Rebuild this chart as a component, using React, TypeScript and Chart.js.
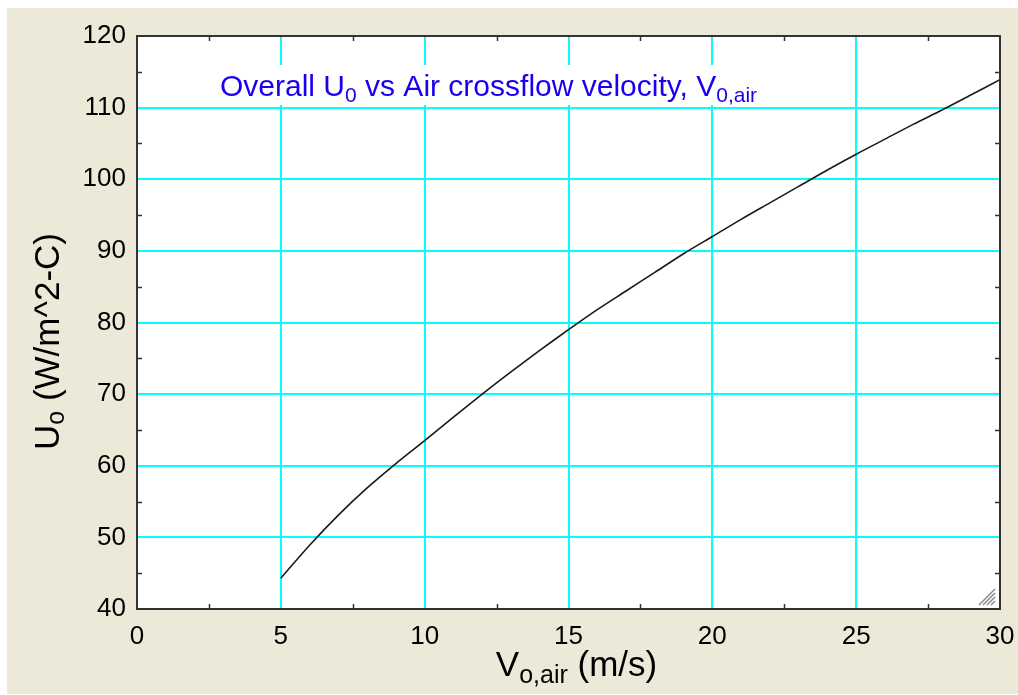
import React, { useEffect, useRef } from "react";
import { Chart, registerables } from "chart.js";

Chart.register(...registerables);

// Air crossflow velocity (m/s)
const velocity = [5, 6, 7, 8, 9, 10, 11, 12, 13, 14, 15, 16, 17, 18, 19, 20, 21, 22, 23, 24, 25, 26, 27, 28, 29, 30];
// Overall heat transfer coefficient U_o (W/m^2-C)
const overallU = [44.3, 48.9, 53.1, 56.9, 60.3, 63.5, 66.8, 70.0, 73.1, 76.1, 79.0, 81.8, 84.4, 87.0, 89.6, 92.0, 94.4, 96.7, 99.0, 101.3, 103.5, 105.6, 107.7, 109.7, 111.8, 113.9];

const xTickValues = [0, 5, 10, 15, 20, 25, 30];
const yTickValues = [40, 50, 60, 70, 80, 90, 100, 110, 120];
const xMinorTicks = [2.5, 7.5, 12.5, 17.5, 22.5, 27.5];
const yMinorTicks = [45, 55, 65, 75, 85, 95, 105, 115];

type Run = { text: string; sub?: boolean };

const titleRuns: Run[] = [
  { text: "Overall U" },
  { text: "0", sub: true },
  { text: " vs Air crossflow velocity, V" },
  { text: "0,air", sub: true },
];
const xTitleRuns: Run[] = [{ text: "V" }, { text: "o,air", sub: true }, { text: " (m/s)" }];
const yTitleRuns: Run[] = [{ text: "U" }, { text: "o", sub: true }, { text: " (W/m^2-C)" }];

const FAMILY = '"Liberation Sans", Arial, Helvetica, sans-serif';

function runsWidth(ctx: CanvasRenderingContext2D, runs: Run[], main: number, sub: number) {
  let w = 0;
  for (const r of runs) {
    ctx.font = `${r.sub ? sub : main}px ${FAMILY}`;
    w += ctx.measureText(r.text).width;
  }
  return w;
}

function drawRuns(ctx: CanvasRenderingContext2D, runs: Run[], x: number, y: number, main: number, sub: number, drop: number) {
  let cx = x;
  ctx.textAlign = "left";
  ctx.textBaseline = "alphabetic";
  for (const r of runs) {
    ctx.font = `${r.sub ? sub : main}px ${FAMILY}`;
    ctx.fillText(r.text, cx, y + (r.sub ? drop : 0));
    cx += ctx.measureText(r.text).width;
  }
}

const decorPlugin = {
  id: "decor",
  beforeDraw(chart: any) {
    const { ctx, chartArea: a } = chart;
    ctx.save();
    ctx.fillStyle = "#ffffff";
    ctx.fillRect(a.left, a.top, a.right - a.left, a.bottom - a.top);
    ctx.restore();
  },
  beforeDatasetsDraw(chart: any) {
    const { ctx, chartArea: a } = chart;
    ctx.save();
    const main = 30;
    const sub = 21;
    const w = runsWidth(ctx, titleRuns, main, sub);
    const x0 = a.left + 83;
    const base = a.top + 60;
    ctx.fillStyle = "#ffffff";
    ctx.fillRect(x0 - 10, a.top + 29, w + 20, 40);
    ctx.fillStyle = "#1a00f0";
    drawRuns(ctx, titleRuns, x0, base, main, sub, 6);
    ctx.restore();
  },
  afterDatasetsDraw(chart: any) {
    const { ctx, chartArea: a, scales } = chart;
    const xs = scales.x;
    const ys = scales.y;
    ctx.save();
    // minor tick marks pointing into the plot on all four sides
    ctx.strokeStyle = "#333333";
    ctx.lineWidth = 1.5;
    const len = 5;
    ctx.beginPath();
    for (const v of xMinorTicks) {
      const px = Math.round(xs.getPixelForValue(v)) + 0.5;
      ctx.moveTo(px, a.bottom);
      ctx.lineTo(px, a.bottom - len);
      ctx.moveTo(px, a.top);
      ctx.lineTo(px, a.top + len);
    }
    for (const v of yMinorTicks) {
      const py = Math.round(ys.getPixelForValue(v)) + 0.5;
      ctx.moveTo(a.left, py);
      ctx.lineTo(a.left + len, py);
      ctx.moveTo(a.right, py);
      ctx.lineTo(a.right - len, py);
    }
    ctx.stroke();
    // size grip in the lower-right corner
    ctx.strokeStyle = "#8a8a8a";
    ctx.lineWidth = 1.5;
    ctx.beginPath();
    const gx = a.right - 5;
    const gy = a.bottom - 4;
    for (const k of [4, 8, 12, 16]) {
      ctx.moveTo(gx - k, gy);
      ctx.lineTo(gx, gy - k);
    }
    ctx.stroke();
    // plot frame
    ctx.strokeStyle = "#333333";
    ctx.lineWidth = 2;
    ctx.strokeRect(a.left, a.top, a.right - a.left, a.bottom - a.top);
    ctx.restore();
  },
  afterDraw(chart: any) {
    const { ctx, chartArea: a } = chart;
    ctx.save();
    ctx.fillStyle = "#000000";
    const main = 35;
    const sub = 25;
    // x-axis title
    const wx = runsWidth(ctx, xTitleRuns, main, sub);
    const cx = (a.left + a.right) / 2 + 8;
    drawRuns(ctx, xTitleRuns, cx - wx / 2, a.bottom + 67, main, sub, 7);
    // y-axis title, rotated
    const wy = runsWidth(ctx, yTitleRuns, main, sub);
    ctx.translate(52, (a.top + a.bottom) / 2 + 19);
    ctx.rotate(-Math.PI / 2);
    drawRuns(ctx, yTitleRuns, -wy / 2, 0, main, sub, 5);
    ctx.restore();
  },
};

export default function App() {
  const canvasRef = useRef<HTMLCanvasElement | null>(null);

  useEffect(() => {
    const canvas = canvasRef.current;
    if (!canvas) return;
    const points = velocity.map((v, i) => ({ x: v, y: overallU[i] }));
    const tickFont = { size: 26, family: FAMILY };
    const chart = new Chart(canvas, {
      type: "line",
      data: {
        datasets: [
          {
            data: points,
            borderColor: "#1a1a1a",
            borderWidth: 1.6,
            pointRadius: 0,
            tension: 0.3,
            fill: false,
          },
        ],
      },
      options: {
        animation: false,
        responsive: false,
        maintainAspectRatio: false,
        devicePixelRatio: 1,
        layout: { padding: { top: 28, right: 18, left: 0, bottom: 0 } },
        plugins: {
          legend: { display: false },
          title: { display: false },
          tooltip: { enabled: false },
        },
        scales: {
          x: {
            type: "linear",
            min: 0,
            max: 30,
            afterBuildTicks: (s: any) => {
              s.ticks = xTickValues.map((v) => ({ value: v }));
            },
            afterFit: (s: any) => {
              s.height = 85;
              s.paddingLeft = 0;
              s.paddingRight = 0;
            },
            grid: { color: "#00ffff", lineWidth: 2, drawTicks: false },
            border: { display: false },
            ticks: { padding: 12, font: tickFont, color: "#000000", maxRotation: 0, autoSkip: false },
          },
          y: {
            type: "linear",
            min: 40,
            max: 120,
            afterBuildTicks: (s: any) => {
              s.ticks = yTickValues.map((v) => ({ value: v }));
            },
            afterFit: (s: any) => {
              s.width = 130;
              s.paddingTop = 0;
              s.paddingBottom = 0;
            },
            grid: { color: "#00ffff", lineWidth: 2, drawTicks: false },
            border: { display: false },
            ticks: { padding: 11, font: tickFont, color: "#000000", autoSkip: false },
          },
        },
      },
      plugins: [decorPlugin],
    } as any);
    return () => chart.destroy();
  }, []);

  return (
    <div
      style={{
        position: "absolute",
        left: 7,
        top: 8,
        width: 1011,
        height: 686,
        background: "#ECE9D8",
      }}
    >
      <canvas ref={canvasRef} width={1011} height={686} style={{ display: "block" }} />
    </div>
  );
}
